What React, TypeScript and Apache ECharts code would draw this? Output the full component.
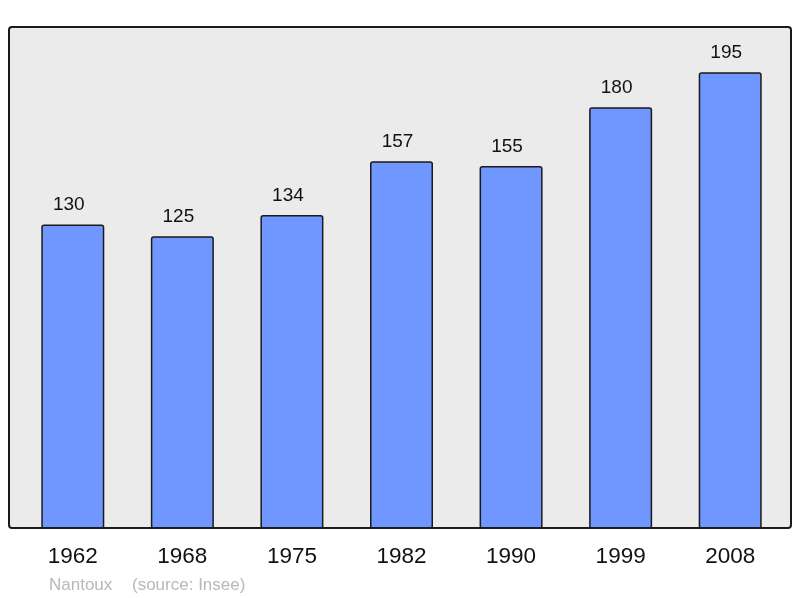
import React, { useEffect, useRef } from "react";
import * as echarts from "echarts";

const years = ["1962", "1968", "1975", "1982", "1990", "1999", "2008"];
const population = [130, 125, 134, 157, 155, 180, 195];
const footerName = "Nantoux";
const footerSource = "(source: Insee)";

export default function App() {
  const ref = useRef<HTMLDivElement>(null);
  useEffect(() => {
    if (!ref.current) return;
    const chart = echarts.init(ref.current, undefined, { renderer: "svg" });
    chart.setOption({
      animation: false,
      textStyle: { fontFamily: "Liberation Sans, Arial, sans-serif" },
      grid: { left: 18, right: 15, top: 27, bottom: 69 },
      xAxis: {
        type: "category",
        data: years,
        axisLine: { show: false },
        axisTick: { show: false },
        axisLabel: { color: "#111", fontSize: 22.5, margin: 15 },
      },
      yAxis: {
        type: "value",
        min: 0,
        max: 214.3,
        show: false,
        splitLine: { show: false },
      },
      graphic: [
        {
          type: "rect",
          z: -10,
          silent: true,
          shape: { x: 9, y: 27, width: 782, height: 501, r: 3 },
          style: { fill: "#ebebeb", stroke: "none" },
        },
        {
          type: "rect",
          z: 100,
          silent: true,
          shape: { x: 9, y: 27, width: 782, height: 501, r: 3 },
          style: { fill: "none", stroke: "#1a1a1a", lineWidth: 2 },
        },
        {
          type: "text",
          left: 49,
          top: 576,
          style: { text: footerName, fill: "#b8b8b8", fontSize: 17, fontFamily: "Liberation Sans, Arial, sans-serif" },
        },
        {
          type: "text",
          left: 132,
          top: 576,
          style: { text: footerSource, fill: "#b8b8b8", fontSize: 17, fontFamily: "Liberation Sans, Arial, sans-serif" },
        },
      ],
      series: [
        {
          type: "bar",
          data: population,
          barWidth: 63,
          itemStyle: {
            color: "#7096ff",
            borderColor: "#1a1a1a",
            borderWidth: 1.5,
            borderRadius: 2,
          },
          label: {
            show: true,
            position: "top",
            distance: 11,
            offset: [-4, 0],
            color: "#111",
            fontSize: 19,
          },
        },
      ],
    });
    return () => chart.dispose();
  }, []);
  return <div ref={ref} style={{ width: 800, height: 598, position: "fixed", left: 0, top: 0 }} />;
}
